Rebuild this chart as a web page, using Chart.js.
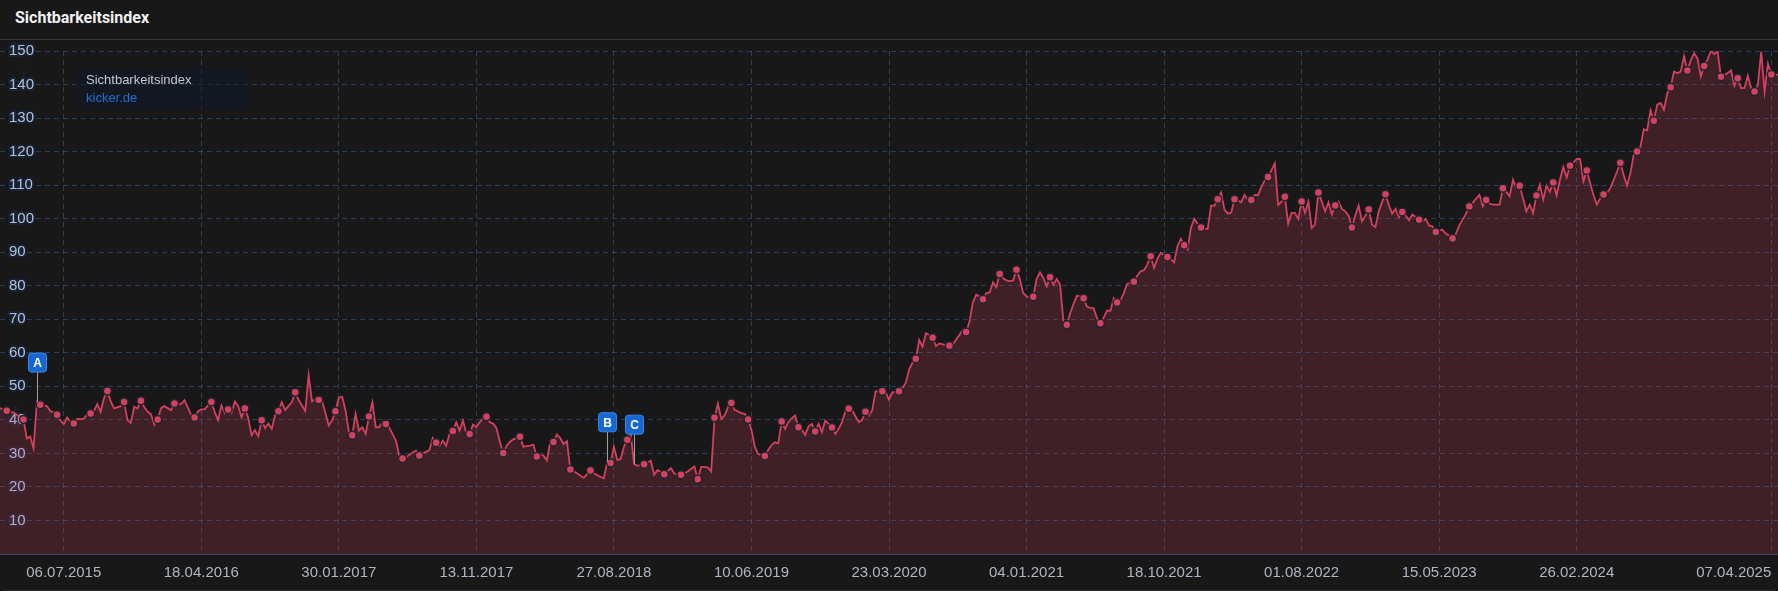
<!DOCTYPE html>
<html>
<head>
<meta charset="utf-8">
<script src="https://cdn.jsdelivr.net/npm/chart.js@4.4.1/dist/chart.umd.min.js"></script>
<style>
html, body { margin: 0; padding: 0; background: #111; }
#wrap { position: relative; width: 1778px; height: 590px; background: #181818; border-bottom: 1px solid #2c2c2c; border-radius: 0 0 5px 5px; overflow: hidden; }
#title { position: absolute; left: 15px; top: 8px; font: bold 16px Roboto, 'Liberation Sans', sans-serif; color: #f0f0f0; }
#hdr-line { position: absolute; left: 0; top: 39px; width: 1778px; height: 1px; background: #363636; }
#chart-box { position: absolute; left: 0; top: 40px; width: 1778px; height: 560px; }
#legend { position: absolute; left: 76px; top: 68px; width: 175px; height: 42px; background: rgba(14, 24, 40, 0.5); border-radius: 6px; font: 13px 'Liberation Sans', Arial, sans-serif; }
#legend .l1 { position: absolute; left: 10px; top: 4px; color: #c6c9ce; }
#legend .l2 { position: absolute; left: 10px; top: 22px; color: #1f6fd6; }
</style>
</head>
<body>
<div id="wrap">
    <div id="title">Sichtbarkeitsindex</div>
    <div id="hdr-line"></div>
    <div id="chart-box"><canvas id="chart" width="1778" height="560"></canvas></div>
    <div id="legend"><div class="l1">Sichtbarkeitsindex</div><div class="l2">kicker.de</div></div>
</div>
<script>
// weekly values (Mondays), first week = 23.02.2015, null = not read off the picture
const firstWeek = Date.UTC(2015, 1, 23)
const values = [
    43.5, null, 42.7, null, 42.2, 41.5, null, 40.1, 34.5, 35,
    31.5, 45.3, 44.5, null, 44.1, 42.6, 42.2, 41.5, 39.9, 38.7,
    40.7, 39.4, 38.9, 40.3, 40.2, 40.4, 41.7, 41.9, 42.7, 44.7,
    42.4, 46.5, 48.6, 45.5, 43.4, null, 44.1, 45.3, 39.9, 39.1,
    43.9, 43.4, 45.7, 43.8, 42.4, 41.7, 38.5, 40.1, 43.5, 44.1,
    43.5, 42.9, 44.9, null, 44.7, 45.9, null, 41.4, 40.7, 42.5,
    43.1, 43.2, null, 45.3, 42.4, 39.9, 44.3, 42.1, 43.1, 42.1,
    45.5, 44.1, 40.7, 43.4, 40.5, 35.4, 36.9, 35.1, 39.9, 37.5,
    38.9, 37.3, 41.4, 42.6, 45.3, 42.9, 44.1, 45.3, 48.2, 46,
    null, 42.6, 53.3, 45.5, 46.2, 45.9, 45.7, null, 38.3, 39.8,
    42.6, 46.7, 46.9, 42.8, 36.3, 35.4, 41.8, 36.8, 37.8, 35.8,
    41, 45.2, 37.8, 37.8, 39.3, 38.8, 37.8, null, 33.8, 29.3,
    28.5, 28.8, null, 30.3, 30.8, 29.4, 30, null, 31, 34.6,
    33.2, 32.3, 33.8, 32.3, 35.8, 36.7, 39.3, 36.8, 39.8, 36,
    35.8, 38.6, 37.8, 39.3, 40.5, 40.9, 39.3, 38.9, 37.5, 33.5,
    30.1, 32.3, 33.4, 34.2, null, 35, 32, 32.2, 32.3, 32.6,
    29.1, 29.6, 29.3, 27.9, 33.3, 33.4, 35.6, 34.6, 32.8, 33.6,
    25.2, null, 24.1, null, 22.7, null, 24.9, 24.1, null, 23,
    22.6, 27.5, 27.1, 32, 28, 28.3, 32, 34.1, 36, 26.8,
    26.3, null, 26.8, null, 27.8, 23.6, 25, 24.5, 23.8, null,
    25.6, 24, null, 23.6, null, 24.6, null, 26.1, 22.3, 26,
    26, 25.8, 24.6, 40.6, 44.8, 40.3, 41.3, 43.8, 45, 43,
    null, 42, 41.8, 40.1, 37, 32, 29.8, null, 29.2, 31,
    32.5, 33.3, 33, 39.5, 37.3, 39.3, 40.5, 41.3, 37.8, 37,
    35.5, 38, 38.8, 36.5, 38.8, 36.3, 39.8, 38.8, 37.7, 35.8,
    37.3, 39.3, 42.6, 43.3, 43, 41, 39.3, 40, 42.4, 41.3,
    42.8, 48.5, null, 48.5, 48.3, 46, 48.2, null, 48.5, 49.5,
    51, 55, 57, 58.2, 63.8, 61.8, 65.8, 65.3, 64.5, 62,
    62.8, 62.5, null, 62.1, 62.5, null, null, 66.8, 66.2, 69.3,
    75, 77.3, 76.8, 76, 77.8, 78, 81, 79.6, 83.5, 82.3,
    81.6, 81.4, 81.6, 84.8, 82, 77.8, 76.8, 76.6, 76.7, 82,
    84, 82.3, 79.8, 82.5, 80.3, 82, 80.3, 69.3, 68.4, 71.8,
    74.5, 77, 76.8, 76.3, 73.8, 73.4, 73.3, 70.3, 68.8, 70.5,
    72.6, 72.5, 76.3, 75, 75.6, 77.8, 80.6, 80.8, 81.2, 83,
    84.3, 84.6, 86.3, 88.8, 85.3, 88, 89.8, 89, 88.6, 87.8,
    87, 91.8, 94, 92.1, 90.8, 97.2, 100, 98.5, 97.4, 97,
    96.9, 103.9, 103.9, 105.8, 107.8, 102.7, 101.5, 101.8, 105.8, 105.5,
    104.9, 107.1, 105.4, 105.6, 107.1, 107, 109.5, 111.4, 112.4, 114.5,
    116.5, 104.1, 105.1, 106.5, 98.5, 101.7, 101.7, 99.9, 105.1, 101.7,
    105, 97.2, 98.2, 107.8, 105.1, 102.2, 104.9, 101.2, 103.9, 105.1,
    102.9, 102.2, 100.9, 97.4, 101, 103.9, 99.2, 100.9, 102.7, 98.2,
    97.5, 102.2, 105, 107.3, 104, 101.5, 102.9, 100.5, 102, 101,
    99.5, 101.2, 100.5, 99.7, 99.2, 99.9, 97.9, 97.7, 96, 96.5,
    96.7, 95.5, 95, 94.1, 95.5, 98, 99.7, 101.5, 103.6, 104.7,
    106, 107.1, 103.7, 105.6, 104.5, 104.2, 104.2, 104.2, 109.1, 108,
    106.7, 111.6, 109.1, 109.8, 106, 102.2, 104.2, 101.7, 106.9, 110.1,
    105.7, 109.8, 108, 110.8, 106.9, 111.6, 115.4, 112.3, 115.8, 116.8,
    117.8, 117.8, 111.1, 114.4, 110.6, 107, 104.2, 106, 107.2, 107.6,
    109.1, 111.5, 114, 116.7, 113, 109.8, 113.6, 119.1, 120, 121.5,
    126.7, 126.3, 132.3, 129.2, 134, 134.5, 132.5, 137.4, 139.2, 143.9,
    143.4, 143.9, 148.4, 144.2, 147.3, 149.3, 147.8, 142.4, 145.5, 147.5,
    150, 149.1, 149.8, 142.3, 142.8, 143.4, 144.2, 139.6, 141.9, 138.9,
    138.9, 142.6, 138.9, 137.9, 139.9, 149.8, 137.9, 146.2, 143, 143.1,
    142.9
]
// weeks (index into values) that carry a visible dot
const dotWeeks = [
    2, 7, 12, 17, 22, 27, 32, 37, 42, 47, 52, 58, 63, 68, 73, 78, 83, 88, 95, 100,
    105, 110, 115, 120, 125, 130, 135, 140, 145, 150, 155, 160, 165, 170, 176, 182, 187, 192, 198, 203,
    208, 213, 218, 223, 228, 233, 238, 243, 248, 253, 258, 263, 268, 273, 278, 283, 288, 293, 298, 303,
    308, 313, 318, 323, 328, 333, 338, 343, 348, 353, 358, 363, 368, 373, 378, 383, 388, 393, 398, 403,
    408, 413, 418, 423, 428, 433, 438, 443, 448, 453, 458, 463, 468, 473, 478, 483, 488, 493, 498, 503,
    508, 513, 518, 523, 528
]
const eventLabels = ['A', 'B', 'C']
const eventWeeks = [11, 181, 189]
const xTickLabels = ['06.07.2015', '18.04.2016', '30.01.2017', '13.11.2017', '27.08.2018', '10.06.2019',
    '23.03.2020', '04.01.2021', '18.10.2021', '01.08.2022', '15.05.2023', '26.02.2024', '07.04.2025']

const DAY = 864e5
const COLORS = {
    line: '#d2415e',
    fill: 'rgba(213, 64, 94, 0.2)',
    dotBorder: '#20242f',
    grid: 'rgba(64, 110, 170, 0.45)',
    tick: '#adb6c3',
    ytick: '#b3c1d4',
    marker: '#1767d2'
}
const FONT = "'Liberation Sans', Arial, sans-serif"

function parse_de_date(s){
    const [d, m, y] = s.split('.').map(Number)
    return Date.UTC(y, m - 1, d)
}
const points = values.map((v, i) => ({ x: firstWeek + i * 7 * DAY, y: v }))
const xMin = points[0].x
const xMax = points[points.length - 1].x
const xTicks = xTickLabels.map(parse_de_date)
const dotSet = new Set(dotWeeks)

// draws the A/B/C flags above their weeks
const eventMarkers = {
    id: 'eventMarkers',
    afterDatasetsDraw(chart){
        const ctx = chart.ctx
        const meta = chart.getDatasetMeta(0)
        eventLabels.forEach((label, n) => {
            const pt = meta.data[eventWeeks[n]]
            const x = Math.round(pt.x) + 0.5
            const y = pt.y
            ctx.save()
            ctx.strokeStyle = '#a0a0a0'
            ctx.lineWidth = 1
            ctx.beginPath()
            ctx.moveTo(x, y)
            ctx.lineTo(x, y - 30)
            ctx.stroke()
            const bw = 18, bh = 19
            ctx.beginPath()
            ctx.roundRect(x - bw / 2, y - 30 - bh, bw, bh, 3)
            ctx.fillStyle = COLORS.marker
            ctx.fill()
            ctx.strokeStyle = '#3a86e6'
            ctx.stroke()
            ctx.fillStyle = '#ffffff'
            ctx.font = 'bold 12px ' + FONT
            ctx.textAlign = 'center'
            ctx.textBaseline = 'middle'
            ctx.fillText(label, x, y - 30 - bh / 2 + 1)
            ctx.restore()
        })
    }
}

const ctx = document.getElementById('chart').getContext('2d')
new Chart(ctx, {
    type: 'line',
    data: {
        datasets: [{
            label: 'kicker.de',
            data: points,
            borderColor: COLORS.line,
            backgroundColor: COLORS.fill,
            borderWidth: 1.8,
            fill: 'origin',
            spanGaps: true,
            tension: 0,
            pointRadius: c => dotSet.has(c.dataIndex) ? 4 : 0,
            pointBackgroundColor: COLORS.line,
            pointBorderColor: COLORS.dotBorder,
            pointBorderWidth: 1.5
        }]
    },
    options: {
        responsive: false,
        animation: false,
        devicePixelRatio: 1,
        layout: { padding: { top: 11, bottom: 8, left: 0, right: 0 } },
        plugins: { legend: { display: false }, tooltip: { enabled: false } },
        scales: {
            x: {
                type: 'linear',
                min: xMin,
                max: xMax,
                afterBuildTicks: s => { s.ticks = [{ value: xMin }, ...xTicks.map(v => ({ value: v }))] },
                afterFit: s => { s.paddingLeft = 0; s.paddingRight = 0 },
                ticks: {
                    autoSkip: false,
                    maxRotation: 0,
                    align: 'inner',
                    padding: 10,
                    color: COLORS.tick,
                    font: { size: 15, family: FONT },
                    callback: (v, i) => i === 0 ? '' : xTickLabels[i - 1]
                },
                grid: {
                    drawTicks: false,
                    color: c => c.index === 0 ? 'rgba(0,0,0,0)' : COLORS.grid
                },
                border: { display: true, color: '#4a4262', dash: [5, 4] }
            },
            y: {
                min: 0,
                max: 150,
                afterFit: s => { s.width = 0; s.paddingTop = 0; s.paddingBottom = 0 },
                ticks: {
                    stepSize: 10,
                    mirror: true,
                    padding: 9,
                    color: COLORS.ytick,
                    font: { size: 15, family: FONT },
                    textStrokeColor: 'rgba(24, 36, 56, 0.9)',
                    textStrokeWidth: 4,
                    callback: v => v === 0 ? '' : v
                },
                grid: {
                    drawTicks: false,
                    color: c => c.tick && c.tick.value === 0 ? 'rgba(0,0,0,0)' : COLORS.grid
                },
                border: { display: false, dash: [5, 4] }
            }
        }
    },
    plugins: [eventMarkers]
})
</script>
</body>
</html>
